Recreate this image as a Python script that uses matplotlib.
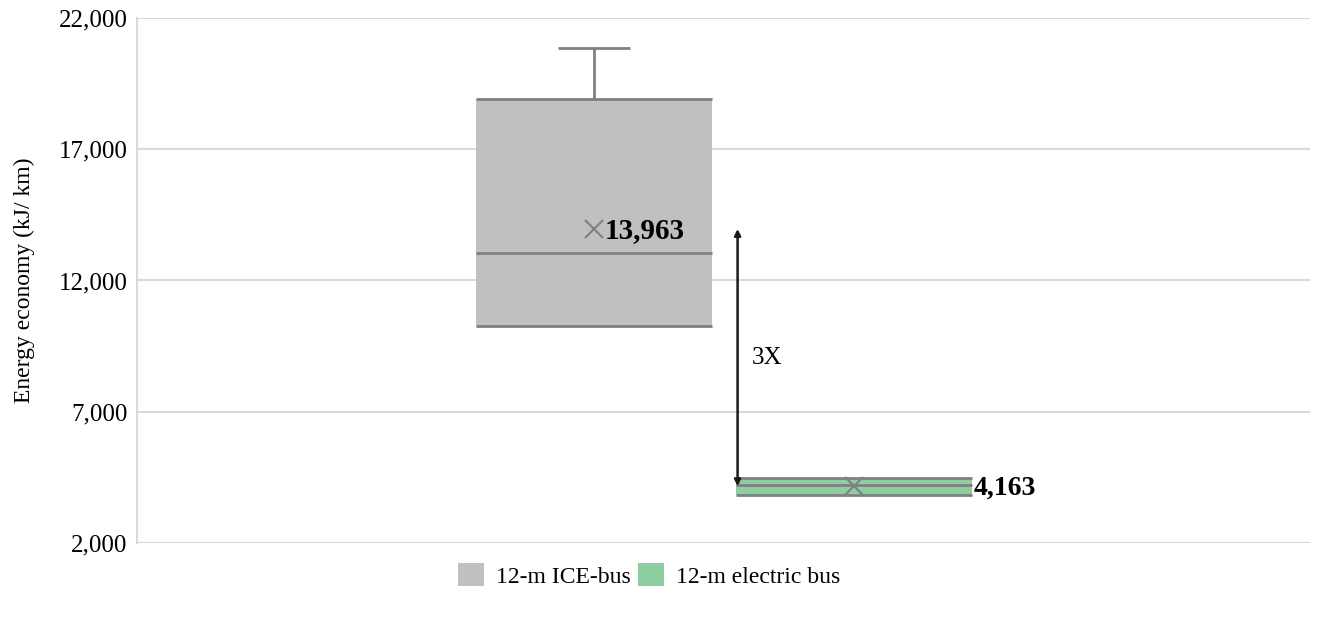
import matplotlib.pyplot as plt
from matplotlib.patches import Patch

plt.rcParams["font.family"] = ["Liberation Serif", "DejaVu Serif"]

# box statistics (kJ/km)
series = ["12-m ICE-bus", "12-m electric bus"]
whisker_max = [20860, 4476]
q3 = [18910, 4476]
medians = [13050, 4210]
q1 = [10270, 3830]
whisker_min = [10270, 3830]
means = [13963, 4163]
fill_colors = ["#bfc0c2", "#8dcea1"]

y_ticks = [2000, 7000, 12000, 17000, 22000]

positions = [0.3896, 0.611]
box_width = 0.201
line_color = "#808080"

fig = plt.figure(figsize=(13.25, 6.17), dpi=100)
ax = fig.add_axes([0.1034, 0.12, 0.8853, 0.8508])

for i, name in enumerate(series):
    x = positions[i]
    ax.bar(x, q3[i] - q1[i], bottom=q1[i], width=box_width,
           color=fill_colors[i], edgecolor="none", zorder=2)
    for val in (q1[i], medians[i], q3[i]):
        ax.hlines(val, x - box_width / 2, x + box_width / 2,
                  color=line_color, linewidth=2, zorder=3)
    if whisker_max[i] > q3[i]:
        ax.vlines(x, q3[i], whisker_max[i], color=line_color, linewidth=2, zorder=3)
        ax.hlines(whisker_max[i], x - 0.031, x + 0.031, color=line_color,
                  linewidth=2, zorder=3)
    if whisker_min[i] < q1[i]:
        ax.vlines(x, whisker_min[i], q1[i], color=line_color, linewidth=2, zorder=3)
    ax.plot(x, means[i], marker="x", color=line_color, markersize=13,
            markeredgewidth=1.5, zorder=4)

ax.text(positions[0] + 0.009, means[0] - 60, f"{means[0]:,}", fontsize=21,
        fontweight="bold", va="center", ha="left", zorder=5)
ax.text(positions[1] + box_width / 2 + 0.002, means[1] - 60, f"{means[1]:,}",
        fontsize=20, fontweight="bold", va="center", ha="left", zorder=5)

# ratio arrow between the two means
arrow_x = positions[1] - box_width / 2 + 0.0015
ax.annotate("", xy=(arrow_x, means[1]), xytext=(arrow_x, means[0]),
            arrowprops=dict(arrowstyle="<|-|>", color="#1a1a1a", lw=1.8,
                            mutation_scale=9, shrinkA=0, shrinkB=0), zorder=6)
ax.text(arrow_x + 0.012, 9050, "3X", fontsize=18, va="center", ha="left")

ax.set_xlim(0, 1)
ax.set_ylim(2000, 22000)
ax.set_yticks(y_ticks)
ax.set_yticklabels([f"{t:,}" for t in y_ticks], fontsize=18)
ax.set_xticks([])
ax.tick_params(axis="y", length=0, pad=7)
ax.grid(axis="y", color="#d9d9d9", linewidth=1.5, zorder=0)
ax.set_axisbelow(True)
for side in ("top", "right", "bottom"):
    ax.spines[side].set_visible(False)
ax.spines["left"].set_color("#d9d9d9")
ax.spines["left"].set_linewidth(1.5)
ax.set_ylabel("Energy economy (kJ/ km)", fontsize=17)
ax.yaxis.set_label_coords(-0.087, 0.5)

handles = [Patch(facecolor=c, edgecolor="none", label=s)
           for c, s in zip(fill_colors, series)]
fig.legend(handles=handles, loc="center", bbox_to_anchor=(0.49, 0.067), ncol=2,
           frameon=False, fontsize=17, handlelength=1.1, handleheight=1.1,
           handletextpad=0.5, columnspacing=0.3)

fig.savefig("out.png", dpi=100)
